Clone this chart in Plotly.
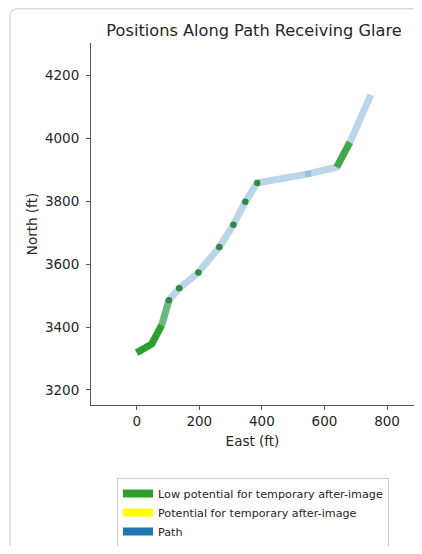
import plotly.graph_objects as go

# ---- data (ft) ----
path_x = [0, 48, 80, 103, 136, 197, 264, 309, 347, 385, 548, 639, 681, 748]
path_y = [3318, 3346, 3406, 3485, 3523, 3573, 3654, 3725, 3798, 3858, 3887, 3908, 3987, 4138]

low_x = [0, 48, 80]
low_y = [3318, 3346, 3406]
low_fade_x = [80, 103]
low_fade_y = [3406, 3485]
low2_x = [639, 681]
low2_y = [3908, 3987]

dots_x = [103, 136, 197, 264, 309, 347, 385]
dots_y = [3485, 3523, 3573, 3654, 3725, 3798, 3858]
vertex_x = [548]
vertex_y = [3887]

legend_names = ["Low potential for temporary after-image",
                "Potential for temporary after-image",
                "Path"]
legend_colors = ["#2ca02c", "#ffff00", "#1f77b4"]

x_ticks = [0, 200, 400, 600, 800]
y_ticks = [3200, 3400, 3600, 3800, 4000, 4200]
x_range = [-146, 886]
y_range = [3152, 4303]

# ---- layout geometry (page pixels; body has an 8px default margin) ----
OFF = 8
W, H = 422 - 2 * OFF, 554 - 2 * OFF
L, R, T, B = 91 - OFF, W, 43 - OFF, 405 - OFF


def px2paper(px, py):
    """page pixel -> paper coordinate"""
    px -= OFF
    py -= OFF
    return (px - L) / (R - L), (B - py) / (B - T)


fig = go.Figure()

fig.add_trace(go.Scatter(x=path_x, y=path_y, mode="lines",
                         line=dict(color="rgba(31,119,180,0.3)", width=7),
                         showlegend=False, hoverinfo="skip"))
fig.add_trace(go.Scatter(x=low_x, y=low_y, mode="lines",
                         line=dict(color="rgb(44,160,44)", width=7),
                         showlegend=False, hoverinfo="skip"))
fig.add_trace(go.Scatter(x=low_fade_x, y=low_fade_y, mode="lines",
                         line=dict(color="rgba(44,160,44,0.55)", width=7),
                         showlegend=False, hoverinfo="skip"))
fig.add_trace(go.Scatter(x=low2_x, y=low2_y, mode="lines",
                         line=dict(color="rgba(44,160,44,0.85)", width=7),
                         showlegend=False, hoverinfo="skip"))
fig.add_trace(go.Scatter(x=dots_x, y=dots_y, mode="markers",
                         marker=dict(color="rgb(50,136,70)", size=6.5, line=dict(width=0)),
                         showlegend=False, hoverinfo="skip"))
fig.add_trace(go.Scatter(x=vertex_x, y=vertex_y, mode="markers",
                         marker=dict(color="rgba(31,119,180,0.25)", size=6, symbol="square",
                                     line=dict(width=0)),
                         showlegend=False, hoverinfo="skip"))

for name, col in zip(legend_names, legend_colors):
    fig.add_trace(go.Scatter(x=[None], y=[None], mode="lines", name=name,
                             line=dict(color=col, width=8)))

# card border (rounded top-left corner)
x0, ytop = px2paper(10, OFF + 0.75)
x1, ybot = px2paper(440, 570)
rx = 8 / (R - L)
ry = 8 / (B - T)
border_path = (f"M {x0},{ybot} L {x0},{ytop - ry} Q {x0},{ytop} {x0 + rx},{ytop} "
               f"L {x1},{ytop}")

lx, ly = px2paper(117, 478)

TXT = "#262626"
fig.update_layout(
    width=W, height=H,
    margin=dict(l=L, r=W - R, t=T, b=H - B, autoexpand=False),
    paper_bgcolor="white", plot_bgcolor="white",
    font=dict(family="DejaVu Sans", color=TXT, size=13.5),
    title=dict(text="Positions Along Path Receiving Glare",
               x=(254 - OFF - L) / (R - L), xref="paper", xanchor="center",
               y=1 - (30 - OFF) / H, yref="container", yanchor="middle",
               font=dict(size=16.2, color=TXT)),
    xaxis=dict(range=x_range, tickvals=x_ticks, automargin=False,
               showgrid=False, zeroline=False, showline=True, linecolor="#555",
               linewidth=1, ticks="outside", ticklen=4, tickcolor="#555",
               tickfont=dict(size=13.5),
               title=dict(text="East (ft)", standoff=8, font=dict(size=13.5))),
    yaxis=dict(range=y_range, tickvals=y_ticks, automargin=False,
               showgrid=False, zeroline=False, showline=True, linecolor="#555",
               linewidth=1, ticks="outside", ticklen=4, tickcolor="#555",
               ticklabelstandoff=4, tickfont=dict(size=13.5),
               title=dict(text="North (ft)", standoff=4, font=dict(size=13.5))),
    legend=dict(x=lx, y=ly, xanchor="left", yanchor="top",
                bordercolor="#cccccc", borderwidth=1, bgcolor="white",
                font=dict(size=11.2, color=TXT), tracegroupgap=0),
    shapes=[dict(type="path", xref="paper", yref="paper", path=border_path,
                 line=dict(color="#dcdcdc", width=1.5), layer="below")],
)

fig.write_html("out.html")
